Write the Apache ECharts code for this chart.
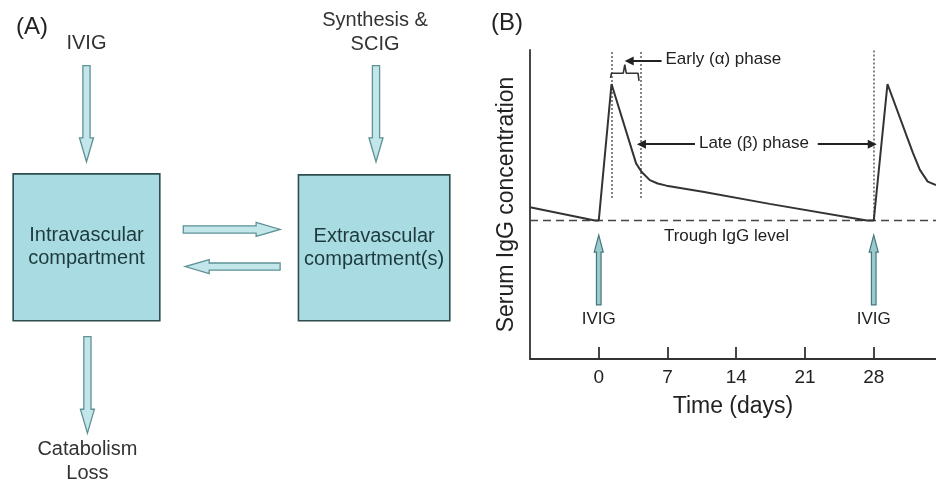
<!DOCTYPE html>
<html><head><meta charset="utf-8">
<script src="https://cdn.jsdelivr.net/npm/echarts@6/dist/echarts.min.js"></script>
<style>html,body{margin:0;padding:0;background:#fff}#c{width:936px;height:483px}</style>
</head><body><div id="c"></div><script>
// ---------- Panel A (diagram units: 0-100 both ways) ----------
const boxLabels = ['Intravascular\ncompartment', 'Extravascular\ncompartment(s)'];
const boxCorners = [[2.8, 36.0, 34.0, 66.4], [63.5, 36.2, 95.7, 66.4]];
const flowArrows = [[18.4, 13.6, 18.4, 33.5], [80.0, 13.6, 80.0, 33.5], [39.0, 47.5, 59.6, 47.5], [59.6, 55.2, 39.4, 55.2], [18.6, 69.7, 18.6, 89.7]];
const flowLabels = ['IVIG', 'Synthesis &\nSCIG', 'Catabolism\nLoss'];
const flowLabelPos = [[18.4, 9.0], [79.8, 6.8], [18.6, 95.5]];

// ---------- Panel B ----------
const dayTicks = [0, 7, 14, 21, 28];
const curveDays = [-7, -0.4, 0, 1.3, 3.8, 4.35, 5.2, 6.0, 6.9, 10.6, 17.4, 27.3, 28, 29.4, 31.5, 32.0, 32.7, 33.5, 34.34];
const curveIgG  = [49.1, 44.8, 44.8, 89.0, 63.3, 60.6, 57.9, 56.8, 56.1, 54.1, 50.2, 44.8, 44.8, 89.0, 70.9, 66.6, 61.2, 57.4, 56.3];
const troughLevel = 44.8;
const xMin = -7, xMax = 34.34;
const dottedLines = [[[1.3, 52.1], [1.3, 100]], [[4.27, 52.1], [4.27, 100]], [[28, 44.8], [28, 100]]];
const bracketDays = [1.2, 1.3, 2.5, 2.65, 2.8, 4.0, 4.1];
const bracketIgG  = [91.0, 92.5, 92.5, 95.3, 92.5, 92.5, 90.0];
const pointerArrows = [[[6.4, 96.4], [3.1, 96.4]], [[9.8, 69.5], [4.35, 69.5]], [[22.3, 69.5], [27.85, 69.5]]];
const doseArrows = [[0, 17.5, 0, 40.1], [28, 17.5, 28, 40.1]];
const noteTexts = ['Early (α) phase', 'Late (β) phase', 'Trough IgG level', 'IVIG', 'IVIG'];
const notePos = [[6.8, 97.1], [15.8, 69.9], [13.0, 39.6], [0, 12.9], [28, 12.9]];
const noteAlign = ['left', 'center', 'center', 'center', 'center'];

const FONT = '"Liberation Sans", Arial, Helvetica, sans-serif';

function blockArrow(p1, p2, sw, hw, hl, style) {
  const dx = p2[0] - p1[0], dy = p2[1] - p1[1];
  const L = Math.hypot(dx, dy), ux = dx / L, uy = dy / L, nx = -uy, ny = ux;
  const bx = p1[0] + ux * (L - hl), by = p1[1] + uy * (L - hl);
  return { type: 'polygon', shape: { points: [
    [p1[0] + nx * sw, p1[1] + ny * sw], [bx + nx * sw, by + ny * sw], [bx + nx * hw, by + ny * hw],
    [p2[0], p2[1]], [bx - nx * hw, by - ny * hw], [bx - nx * sw, by - ny * sw], [p1[0] - nx * sw, p1[1] - ny * sw]
  ] }, style: style };
}

const chart = echarts.init(document.getElementById('c'));
chart.setOption({
  animation: false,
  backgroundColor: '#fff',
  title: [
    { text: '(A)', left: 11, top: 10, textStyle: { fontFamily: FONT, fontSize: 24, fontWeight: 'normal', color: '#222' } },
    { text: '(B)', left: 486, top: 6, textStyle: { fontFamily: FONT, fontSize: 24, fontWeight: 'normal', color: '#222' } }
  ],
  grid: [
    { left: 0, top: 0, width: 470, height: 483 },
    { left: 530, top: 50, right: 0, bottom: 124 }
  ],
  xAxis: [
    { gridIndex: 0, type: 'value', min: 0, max: 100, show: false },
    { gridIndex: 1, type: 'value', min: xMin, max: xMax,
      axisLine: { onZero: false, lineStyle: { color: '#333', width: 1.8 } },
      axisTick: { show: true, inside: true, length: 12, customValues: dayTicks, lineStyle: { color: '#333', width: 1.8 } },
      axisLabel: { customValues: dayTicks, fontSize: 19, fontFamily: FONT, color: '#222', margin: 9 },
      splitLine: { show: false },
      name: 'Time (days)', nameLocation: 'middle', nameGap: 36,
      nameTextStyle: { fontFamily: FONT, fontSize: 23, color: '#222' } }
  ],
  yAxis: [
    { gridIndex: 0, type: 'value', min: 0, max: 100, inverse: true, show: false },
    { gridIndex: 1, type: 'value', min: 0, max: 100,
      axisLine: { show: true, onZero: false, lineStyle: { color: '#333', width: 1.8 } },
      axisTick: { show: false }, axisLabel: { show: false }, splitLine: { show: false },
      name: 'Serum IgG concentration', nameLocation: 'middle', nameRotate: 90, nameGap: 12,
      nameTextStyle: { fontFamily: FONT, fontSize: 23, color: '#222' } }
  ],
  series: [
    // Panel A: flow arrows
    { type: 'custom', xAxisIndex: 0, yAxisIndex: 0, data: flowArrows,
      renderItem: function (params, api) {
        const p1 = api.coord([api.value(0), api.value(1)]), p2 = api.coord([api.value(2), api.value(3)]);
        return blockArrow(p1, p2, 3.6, 7, 24, { fill: '#c3e6ea', stroke: '#5f9297', lineWidth: 1.3 });
      } },
    // Panel A: boxes
    { type: 'custom', xAxisIndex: 0, yAxisIndex: 0, data: boxCorners,
      renderItem: function (params, api) {
        const a = api.coord([api.value(0), api.value(1)]), b = api.coord([api.value(2), api.value(3)]);
        return { type: 'group', children: [
          { type: 'rect', shape: { x: a[0], y: a[1], width: b[0] - a[0], height: b[1] - a[1] },
            style: { fill: '#a9dce2', stroke: '#2f4c4f', lineWidth: 1.6 } },
          { type: 'text', x: (a[0] + b[0]) / 2, y: (a[1] + b[1]) / 2,
            style: { text: boxLabels[params.dataIndex], fontFamily: FONT, fontSize: 20, fill: '#1d3a3d',
              align: 'center', verticalAlign: 'middle', lineHeight: 23 } }
        ] };
      } },
    // Panel A: labels
    { type: 'custom', xAxisIndex: 0, yAxisIndex: 0, data: flowLabelPos,
      renderItem: function (params, api) {
        const p = api.coord([api.value(0), api.value(1)]);
        return { type: 'text', x: p[0], y: p[1], style: { text: flowLabels[params.dataIndex], fontFamily: FONT,
          fontSize: 20, fill: '#333', align: 'center', verticalAlign: 'middle', lineHeight: 24 } };
      } },
    // Panel B: trough dashed line
    { type: 'line', xAxisIndex: 1, yAxisIndex: 1, data: [[xMin, troughLevel], [xMax, troughLevel]],
      symbol: 'none', lineStyle: { color: '#444', width: 1.6, type: [8, 5] }, silent: true },
    // Panel B: dotted phase lines
    { type: 'lines', coordinateSystem: 'cartesian2d', xAxisIndex: 1, yAxisIndex: 1,
      data: dottedLines.map(function (c) { return { coords: c }; }),
      lineStyle: { color: '#666', width: 1.6, type: [2, 2], opacity: 1 }, symbol: 'none' },
    // Panel B: IgG curve
    { type: 'line', xAxisIndex: 1, yAxisIndex: 1, data: curveDays.map(function (d, i) { return [d, curveIgG[i]]; }),
      symbol: 'none', lineStyle: { color: '#333', width: 2 } },
    // Panel B: bracket
    { type: 'line', xAxisIndex: 1, yAxisIndex: 1, data: bracketDays.map(function (d, i) { return [d, bracketIgG[i]]; }),
      symbol: 'none', lineStyle: { color: '#333', width: 1.6 } },
    // Panel B: pointer arrows
    { type: 'lines', coordinateSystem: 'cartesian2d', xAxisIndex: 1, yAxisIndex: 1,
      data: pointerArrows.map(function (c) { return { coords: c }; }),
      symbol: ['none', 'triangle'], symbolSize: [8, 9],
      lineStyle: { color: '#222', width: 2, opacity: 1 } },
    // Panel B: IVIG dose arrows
    { type: 'custom', xAxisIndex: 1, yAxisIndex: 1, data: doseArrows,
      renderItem: function (params, api) {
        const p1 = api.coord([api.value(0), api.value(1)]), p2 = api.coord([api.value(2), api.value(3)]);
        return blockArrow(p1, p2, 2.3, 4.5, 17, { fill: '#9ccbcf', stroke: '#44767b', lineWidth: 1.2 });
      } },
    // Panel B: text notes
    { type: 'custom', xAxisIndex: 1, yAxisIndex: 1, data: notePos,
      renderItem: function (params, api) {
        const p = api.coord([api.value(0), api.value(1)]);
        return { type: 'text', x: p[0], y: p[1], style: { text: noteTexts[params.dataIndex], fontFamily: FONT,
          fontSize: 17, fill: '#222', align: noteAlign[params.dataIndex], verticalAlign: 'middle' } };
      } }
  ]
});
</script></body></html>
